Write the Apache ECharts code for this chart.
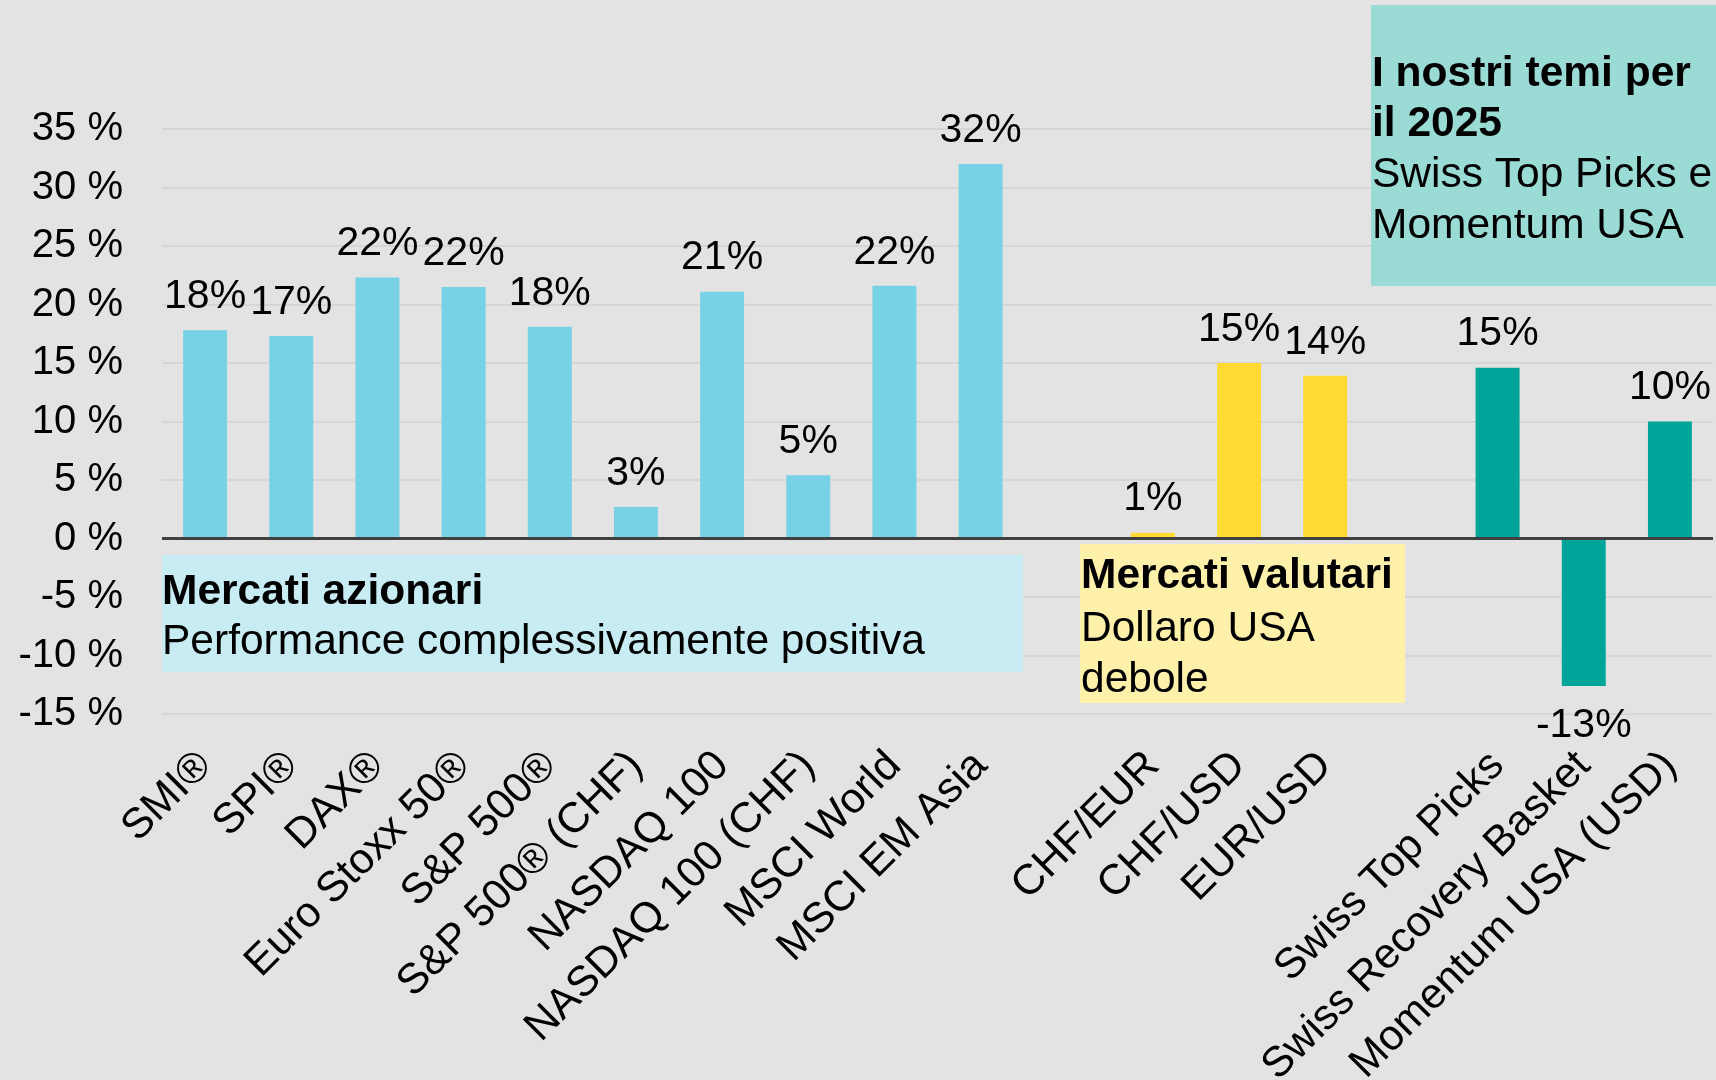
<!DOCTYPE html>
<html>
<head>
<meta charset="utf-8">
<script src="https://cdn.jsdelivr.net/npm/echarts@6/dist/echarts.min.js"></script>
<style>
html,body{margin:0;padding:0;background:#E3E3E3;}
#chart{width:1716px;height:1080px;}
</style>
</head>
<body>
<div id="chart"></div>
<script>
// ---- data ----
const categories = ['SMI®','SPI®','DAX®','Euro Stoxx 50®','S&P 500®','S&P 500® (CHF)','NASDAQ 100','NASDAQ 100 (CHF)','MSCI World','MSCI EM Asia','','CHF/EUR','CHF/USD','EUR/USD','','Swiss Top Picks','Swiss Recovery Basket','Momentum USA (USD)'];
const values = [17.8,17.3,22.3,21.5,18.1,2.7,21.1,5.4,21.6,32.0,null,0.5,15.0,13.9,null,14.6,-12.6,10.0];
const groups = ['equity','equity','equity','equity','equity','equity','equity','equity','equity','equity',null,'fx','fx','fx',null,'theme','theme','theme'];
const yMin = -15, yMax = 35, yStep = 5;

// ---- styles ----
const groupColors = {equity:'#78D2E5', fx:'#FFDA33', theme:'#00A59A'};
const FONT = "'Liberation Sans', Arial, sans-serif";
const NOTE = 42.5;

const chart = echarts.init(document.getElementById('chart'));
const seriesData = values.map((v, i) => {
  if (v === null) return null;
  return {
    value: v,
    itemStyle: {color: groupColors[groups[i]]},
    label: v < 0 ? {position: 'bottom', distance: 19} : {position: 'top'}
  };
});

function note(x, y, text, bold) {
  return {type: 'text', x: x, y: y, z: 2,
    style: {text: text, font: (bold ? 'bold ' : '') + NOTE + 'px ' + FONT, fill: '#000', textVerticalAlign: 'middle'}};
}

chart.setOption({
  backgroundColor: '#E3E3E3',
  animation: false,
  grid: {left: 162, right: 3, top: 129, bottom: 366, containLabel: false, outerBoundsMode: 'none'},
  xAxis: {
    type: 'category',
    data: categories,
    axisLine: {show: false, onZero: false},
    axisTick: {show: false},
    axisLabel: {
      interval: 0, rotate: 45, margin: 45,
      color: '#000', fontFamily: FONT, fontSize: 42.5
    }
  },
  yAxis: {
    type: 'value',
    min: yMin, max: yMax, interval: yStep,
    axisLine: {show: false},
    axisTick: {show: false},
    splitLine: {lineStyle: {color: '#D6D6D6', width: 2}},
    axisLabel: {
      formatter: v => v + ' %',
      color: '#000', fontFamily: FONT, fontSize: 40, margin: 39
    }
  },
  series: [{
    type: 'bar',
    data: seriesData,
    barWidth: '51%',
    label: {
      show: true,
      distance: 13,
      color: '#000', fontFamily: FONT, fontSize: 41,
      formatter: p => Math.round(p.value) + '%'
    },
    markLine: {
      silent: true,
      symbol: 'none',
      label: {show: false},
      lineStyle: {color: '#404040', width: 3, type: 'solid'},
      data: [{yAxis: 0}]
    }
  }],
  graphic: [
    {type: 'rect', shape: {x: 162, y: 555, width: 861, height: 117}, style: {fill: '#C8ECF4'}, z: 1},
    note(162, 592, 'Mercati azionari', true),
    note(162, 642, 'Performance complessivamente positiva', false),

    {type: 'rect', shape: {x: 1080, y: 544, width: 325, height: 159}, style: {fill: '#FFF0AA'}, z: 1},
    note(1081, 576, 'Mercati valutari', true),
    note(1081, 629, 'Dollaro USA', false),
    note(1081, 680, 'debole', false),

    {type: 'rect', shape: {x: 1371, y: 5, width: 345, height: 281}, style: {fill: '#9ADBD6'}, z: 1},
    note(1372, 74, 'I nostri temi per', true),
    note(1372, 124, 'il 2025', true),
    note(1372, 175, 'Swiss Top Picks e', false),
    note(1372, 226, 'Momentum USA', false)
  ]
});
</script>
</body>
</html>
